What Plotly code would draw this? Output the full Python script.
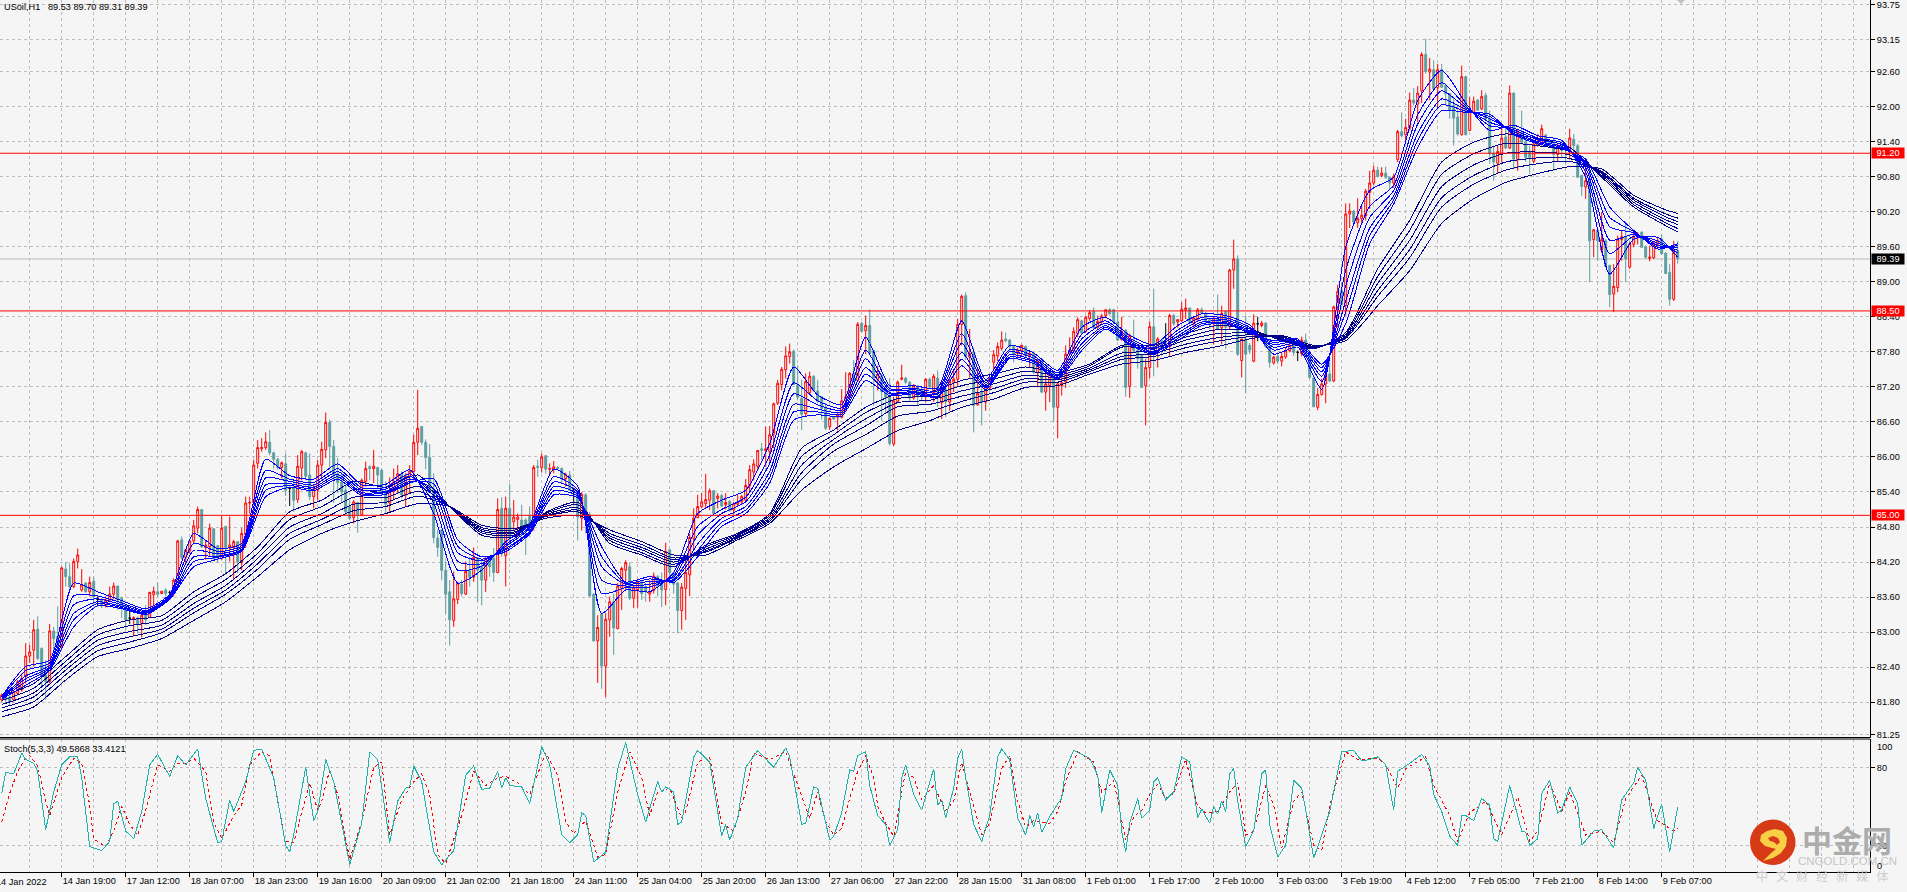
import plotly.graph_objects as go

W, H = 1907, 892

# ---------- candles (hourly USoil) ----------
opens = [
81.84,81.92,81.89,81.84,81.95,82.01,82.24,82.59,82.69,83.05,
82.72,82.27,82.15,83.02,82.93,82.76,84.08,83.95,83.78,84.21,
83.72,83.84,83.69,83.87,83.56,83.56,83.45,83.55,83.65,83.79,
83.58,83.46,83.24,83.22,83.24,83.15,83.32,83.25,83.64,83.69,
83.66,83.72,83.68,83.66,83.87,84.58,84.28,84.39,84.56,84.78,
85.10,84.45,84.46,84.77,84.48,84.26,84.81,84.44,84.45,84.55,
84.19,84.67,85.21,85.22,85.89,86.14,86.16,86.25,86.07,85.96,
85.82,85.88,85.46,85.48,85.27,85.81,86.07,85.69,85.32,85.43,
85.86,86.12,86.59,86.18,85.71,85.57,85.43,85.15,84.96,85.22,
85.01,85.58,85.83,85.80,85.82,85.77,85.42,85.21,85.41,85.56,
85.71,85.35,85.66,85.75,86.25,86.52,86.25,85.99,85.41,84.61,
84.75,84.06,83.69,83.20,83.56,83.82,83.65,84.05,83.94,84.27,
84.12,83.89,84.24,84.26,84.02,85.12,84.31,85.12,84.89,84.93,
84.92,84.92,84.98,84.81,85.84,85.82,86.02,85.79,85.79,85.82,
85.80,85.63,85.69,85.45,85.42,84.95,85.35,85.01,83.65,82.85,
83.31,82.42,83.21,83.52,83.06,83.75,84.06,84.12,83.58,83.73,
83.86,83.78,83.65,83.71,83.95,83.89,83.73,84.41,84.01,83.84,
83.37,83.75,83.98,84.61,84.96,85.15,85.20,85.26,85.42,85.29,
85.34,85.18,85.24,85.09,85.19,85.23,85.26,85.51,85.74,85.84,
86.14,86.11,86.09,86.39,86.92,87.24,87.49,87.72,87.81,87.23,
87.00,86.74,87.10,87.38,87.13,87.03,86.85,86.52,86.68,86.68,
86.68,86.96,87.03,87.43,87.31,88.29,88.16,88.25,87.82,87.33,
87.39,87.12,87.02,86.22,86.95,87.33,87.35,87.28,87.01,87.21,
87.15,87.06,87.33,87.10,87.35,86.93,87.15,86.94,87.28,87.33,
88.27,88.76,87.71,87.79,86.89,87.12,86.94,87.18,87.62,87.73,
87.86,88.02,88.00,87.89,87.77,87.82,87.89,87.73,87.77,87.44,
87.64,87.11,87.22,87.45,86.85,87.22,87.28,87.76,87.82,88.11,
88.33,88.15,88.37,88.49,88.22,88.31,88.42,88.52,88.52,88.31,
88.01,88.17,87.21,87.95,87.82,87.75,87.22,87.53,88.23,87.82,
88.00,87.91,87.89,88.42,88.31,88.33,88.52,88.55,88.29,88.36,
88.52,88.46,88.35,88.31,88.36,88.21,88.49,88.23,89.20,89.39,
87.65,88.02,87.91,87.64,88.28,88.25,88.29,87.89,87.61,87.72,
87.64,87.71,87.82,87.91,87.79,87.77,88.00,87.73,87.35,86.85,
87.07,87.25,87.42,87.30,88.57,88.85,88.59,90.16,90.21,90.01,
90.08,90.13,90.53,90.69,90.91,90.82,90.86,90.79,90.69,91.09,
91.57,91.52,91.63,92.11,92.04,92.27,92.89,92.59,92.63,92.32,
92.63,92.36,92.22,92.02,91.82,91.52,92.51,91.59,91.90,92.11,
91.96,92.19,91.80,91.20,91.03,91.20,91.48,91.29,92.23,91.09,
91.56,91.39,91.22,91.06,91.34,91.37,91.51,91.40,91.36,91.18,
91.33,91.35,91.22,91.44,91.33,90.82,90.62,90.73,89.72,89.88,
89.54,89.70,89.28,88.79,88.90,89.72,89.76,89.25,89.64,89.76,
89.85,89.60,89.40,89.41,89.65,89.73,89.49,89.16,88.70,89.53]

highs = [
81.95,81.95,81.92,82.01,82.18,82.29,82.81,82.78,83.21,83.27,
82.74,82.52,83.14,83.09,83.44,84.12,84.20,84.18,84.26,84.43,
84.08,83.85,83.95,83.95,83.61,83.58,83.61,83.78,83.85,83.79,
83.61,83.46,83.37,83.27,83.27,83.32,83.46,83.69,83.78,83.85,
83.70,83.75,83.71,83.92,84.58,84.64,84.42,84.58,84.92,85.15,
85.10,84.58,84.86,84.78,84.49,84.99,84.82,84.98,84.58,84.55,
84.78,85.32,85.32,85.95,86.29,86.32,86.42,86.46,86.09,85.98,
85.92,86.06,85.49,85.60,86.03,86.12,86.09,86.06,85.52,85.95,
86.26,86.76,86.64,86.29,85.98,85.75,85.52,85.26,85.26,85.23,
85.63,85.92,85.86,86.12,85.83,85.80,85.58,85.65,85.80,85.86,
85.75,85.72,85.86,86.38,87.15,86.53,86.30,86.22,85.72,84.75,
84.76,84.21,83.89,84.04,83.86,83.89,84.21,84.29,84.45,84.29,
84.21,84.29,84.29,84.44,85.29,85.31,85.32,85.54,85.26,85.03,
85.18,84.95,85.15,85.86,85.95,86.06,86.03,85.89,85.93,85.84,
85.82,85.73,85.76,85.45,85.43,85.40,85.38,85.06,83.66,83.29,
83.32,83.32,83.61,83.66,83.84,84.12,84.23,84.19,83.81,83.89,
83.89,83.84,83.89,84.02,83.98,84.02,84.53,84.41,84.04,83.86,
83.84,84.23,84.69,85.12,85.35,85.38,85.71,85.46,85.43,85.38,
85.37,85.38,85.26,85.23,85.35,85.35,85.62,85.86,85.96,86.12,
86.24,86.52,86.53,86.93,87.32,87.54,87.89,87.94,87.84,87.57,
87.32,87.43,87.46,87.40,87.32,87.04,86.92,86.68,86.70,86.77,
87.16,87.45,87.45,87.66,88.31,88.31,88.42,88.52,87.83,87.56,
87.42,87.19,87.35,87.03,87.31,87.58,87.37,87.30,87.25,87.23,
87.20,87.35,87.36,87.42,87.48,87.31,87.19,87.34,87.48,88.36,
88.78,88.82,88.19,87.87,87.53,87.36,87.25,87.36,87.83,87.96,
88.15,88.13,88.02,87.89,87.87,87.92,87.91,87.82,87.79,87.68,
87.65,87.45,87.48,87.48,87.28,87.45,87.91,88.05,88.22,88.39,
88.35,88.42,88.51,88.56,88.42,88.45,88.53,88.55,88.53,88.48,
88.40,88.19,88.11,88.35,87.91,87.76,87.68,88.32,88.88,88.05,
88.02,88.29,88.45,88.45,88.36,88.65,88.71,88.56,88.40,88.55,
88.56,88.48,88.36,88.39,88.78,88.59,88.51,89.22,89.72,89.45,
88.02,88.42,87.95,88.44,88.40,88.33,88.31,87.91,87.73,87.79,
87.79,87.88,87.96,87.92,87.82,88.06,88.11,87.75,87.36,87.18,
87.34,87.51,87.71,88.59,88.95,88.97,90.34,90.34,90.23,90.43,
90.33,90.59,90.90,90.99,90.97,90.96,90.97,90.80,90.85,91.60,
91.90,91.79,92.24,92.32,92.35,92.93,93.16,92.83,92.79,92.73,
92.73,92.37,92.23,92.16,92.04,92.70,92.53,92.16,92.17,92.13,
92.28,92.24,91.93,91.33,91.33,91.62,91.64,92.36,92.24,91.62,
91.93,91.47,91.33,91.39,91.53,91.69,91.53,91.43,91.47,91.36,
91.36,91.36,91.62,91.53,91.36,90.83,91.10,90.93,89.90,89.90,
90.19,89.73,89.29,89.30,89.79,89.88,89.99,89.68,89.89,89.85,
89.86,89.62,89.62,89.69,89.77,89.81,89.50,89.30,89.70,89.70]

lows = [
81.81,81.78,81.75,81.81,81.92,81.98,82.12,82.47,82.41,82.52,
82.07,81.84,82.12,82.64,82.55,82.72,83.78,83.75,83.75,84.09,
83.69,83.68,83.61,83.46,83.44,83.41,83.42,83.52,83.56,83.38,
83.24,83.04,83.14,82.93,82.98,82.91,83.12,83.24,83.44,83.61,
83.65,83.61,83.55,83.61,83.84,84.24,84.18,84.35,84.52,84.69,
84.44,84.24,84.29,84.24,84.19,84.24,83.98,84.21,83.89,84.01,
84.06,84.44,85.03,85.18,85.80,86.09,86.12,86.03,85.80,85.78,
85.63,85.33,85.16,85.06,85.21,85.60,85.60,85.26,85.12,85.26,
85.63,85.98,85.78,85.21,85.38,85.23,85.01,84.92,84.86,84.70,
85.01,85.49,85.60,85.55,85.46,85.35,85.03,85.06,85.26,85.38,
85.29,85.16,85.38,85.60,86.03,86.20,85.79,85.38,84.52,84.29,
83.89,83.32,82.77,83.09,83.48,83.61,83.64,83.78,83.86,83.52,
83.46,83.69,83.95,83.86,84.01,84.29,83.78,84.49,84.75,84.63,
84.66,84.32,84.63,84.74,85.66,85.73,85.71,85.67,85.72,85.78,
85.54,85.49,85.42,85.20,84.57,84.74,84.69,83.61,82.84,82.13,
82.03,81.89,82.92,82.61,83.05,83.38,83.72,83.55,83.41,83.42,
83.55,83.52,83.52,83.66,83.61,83.43,83.46,83.89,83.66,82.98,
83.04,83.21,83.62,84.41,84.95,85.12,85.12,85.09,85.02,85.12,
85.14,85.10,85.06,85.01,85.16,85.18,85.23,85.38,85.60,85.78,
85.95,85.83,85.92,86.15,86.89,87.14,87.34,87.60,87.23,86.97,
86.46,86.69,87.08,87.12,86.92,86.64,86.46,86.46,86.63,86.46,
86.66,86.79,87.01,87.28,87.28,88.13,87.76,87.76,86.88,87.14,
86.62,86.74,86.19,86.19,86.94,87.31,87.25,86.94,86.98,86.88,
86.96,86.94,87.18,86.94,86.85,86.65,86.68,86.79,87.11,87.22,
87.91,87.66,87.36,86.42,86.88,86.54,86.79,87.14,87.48,87.64,
87.82,87.96,87.82,87.62,87.69,87.71,87.71,87.54,87.42,87.19,
87.09,86.79,86.94,86.61,86.32,87.05,87.18,87.79,87.79,88.05,
88.11,88.12,88.33,88.19,88.19,88.28,88.39,88.42,88.27,87.99,
87.99,87.03,87.01,87.79,87.51,87.18,86.54,87.35,87.38,87.53,
87.73,87.89,87.73,88.25,88.21,88.31,88.36,88.28,88.21,88.33,
88.45,88.28,88.19,87.93,88.17,87.93,87.85,88.19,88.88,87.73,
87.36,87.09,87.76,87.62,87.98,88.22,87.87,87.53,87.58,87.59,
87.55,87.68,87.79,87.73,87.64,87.72,87.72,87.34,86.85,86.80,
87.05,86.92,87.28,87.28,88.22,88.59,88.42,89.92,90.00,89.92,
89.99,90.05,90.25,90.65,90.79,90.79,90.76,90.59,90.61,91.05,
91.47,91.42,91.59,92.02,91.73,92.06,92.56,92.11,92.28,91.96,
92.32,92.02,91.79,91.33,91.50,91.50,91.50,91.58,91.88,91.93,
91.94,91.77,91.02,90.73,90.85,91.05,91.27,91.27,90.93,90.90,
91.36,91.05,90.85,91.03,91.31,91.33,91.36,91.30,90.90,91.05,
91.13,91.02,91.09,91.22,90.78,90.47,90.42,88.99,89.42,89.36,
89.49,89.25,88.56,88.48,88.82,89.36,88.99,89.22,89.59,89.64,
89.58,89.39,89.35,89.39,89.60,89.46,89.13,88.59,88.67,89.31]

closes = [
81.92,81.84,81.81,81.98,82.15,82.21,82.59,82.66,83.04,82.55,
82.25,82.15,83.02,82.89,82.75,84.10,83.95,83.78,84.21,84.32,
83.81,83.69,83.85,83.61,83.56,83.45,83.55,83.65,83.79,83.55,
83.44,83.21,83.24,83.25,83.14,83.29,83.21,83.68,83.70,83.65,
83.70,83.66,83.68,83.89,84.56,84.28,84.41,84.56,84.82,85.10,
84.46,84.49,84.78,84.26,84.29,84.78,84.45,84.49,84.55,84.21,
84.69,85.21,85.22,85.86,86.16,86.16,86.26,86.07,85.96,85.82,
85.90,85.43,85.46,85.26,85.84,86.09,85.67,85.32,85.45,85.86,
86.13,86.59,86.18,85.67,85.56,85.40,85.06,84.95,85.23,85.01,
85.60,85.80,85.80,85.84,85.69,85.40,85.19,85.41,85.57,85.71,
85.35,85.67,85.76,86.25,86.49,86.25,85.99,85.39,84.62,84.45,
84.06,83.65,83.21,83.57,83.84,83.66,84.04,83.94,84.28,84.06,
83.89,84.26,84.12,84.02,85.10,84.34,85.12,84.63,84.97,84.97,
84.75,84.81,84.78,85.82,85.82,86.00,85.79,85.80,85.83,85.80,
85.63,85.70,85.43,85.45,84.97,85.36,85.01,83.62,82.85,83.08,
82.42,83.22,83.52,83.07,83.79,84.09,84.19,83.58,83.77,83.86,
83.66,83.69,83.69,83.96,83.78,83.72,84.38,84.02,83.82,83.37,
83.77,84.02,84.62,84.95,85.15,85.23,85.27,85.42,85.03,85.33,
85.16,85.22,85.08,85.20,85.23,85.32,85.51,85.78,85.88,86.11,
86.11,86.14,86.38,86.91,87.26,87.50,87.73,87.80,87.24,87.02,
86.73,87.29,87.38,87.13,86.95,86.83,86.49,86.66,86.65,86.72,
86.96,87.03,87.43,87.31,88.27,88.15,88.25,87.77,87.35,87.42,
87.12,87.02,86.23,86.96,87.28,87.35,87.28,87.01,87.22,87.05,
87.05,87.33,87.20,87.38,87.14,87.12,86.94,87.29,87.33,88.27,
88.75,87.72,87.77,86.88,87.09,86.94,87.20,87.35,87.75,87.89,
88.00,87.99,87.89,87.76,87.83,87.91,87.73,87.77,87.45,87.64,
87.11,87.25,87.45,86.85,87.25,87.27,87.76,87.83,88.15,88.35,
88.12,88.39,88.47,88.21,88.32,88.41,88.52,88.45,88.31,88.00,
88.15,87.19,88.08,87.82,87.68,87.19,87.53,88.23,87.89,88.02,
87.85,87.91,88.42,88.28,88.35,88.53,88.55,88.31,88.38,88.52,
88.46,88.33,88.28,88.38,88.19,88.46,88.22,89.20,89.39,87.76,
88.02,87.76,87.83,88.29,88.28,88.29,87.89,87.62,87.71,87.64,
87.72,87.82,87.91,87.79,87.79,88.00,87.73,87.36,86.86,87.07,
87.25,87.41,87.30,88.57,88.83,88.61,90.16,90.21,90.02,90.08,
90.14,90.55,90.69,90.91,90.80,90.86,90.79,90.69,90.80,91.57,
91.50,91.64,92.11,92.06,92.23,92.89,92.60,92.64,92.30,92.63,
92.33,92.22,91.93,91.80,91.53,92.51,91.52,91.93,92.09,91.94,
92.17,91.79,91.19,91.05,91.23,91.46,91.29,92.23,91.10,91.58,
91.39,91.13,91.13,91.36,91.38,91.62,91.39,91.33,91.18,91.33,
91.25,91.29,91.46,91.33,90.79,90.63,90.73,89.70,89.89,89.70,
89.72,89.26,88.78,88.92,89.73,89.77,89.39,89.65,89.77,89.81,
89.59,89.42,89.42,89.66,89.70,89.48,89.14,88.70,89.50,89.39]

doji_bars = [24, 32, 42, 72, 143, 291, 314, 324]

# ---------- guppy ribbons ----------
slow_bars = list(range(0, 420, 8)) + [419]
slow1 = [81.90,82.12,82.58,83.04,83.21,83.28,83.69,84.00,84.46,85.06,85.26,85.58,85.48,85.69,85.15,84.66,84.63,85.05,85.22,84.52,84.32,84.12,84.49,84.69,85.03,86.15,86.46,86.85,87.08,87.11,87.31,87.42,87.54,87.45,87.59,87.91,87.91,88.11,88.25,88.19,87.99,87.85,88.13,89.22,90.05,91.05,91.39,91.53,91.45,91.30,90.79,90.28,89.96,89.85]
slow2 = [81.83,82.04,82.50,82.95,83.11,83.20,83.59,83.90,84.35,84.93,85.15,85.44,85.39,85.59,85.15,84.70,84.66,85.03,85.18,84.57,84.36,84.16,84.46,84.67,85.00,86.01,86.38,86.76,87.00,87.05,87.22,87.33,87.47,87.40,87.56,87.88,87.86,88.05,88.18,88.16,88.01,87.86,88.10,89.09,89.88,90.84,91.19,91.37,91.33,91.23,90.82,90.32,90.01,89.91]
slow3 = [81.76,81.96,82.42,82.86,83.01,83.12,83.49,83.80,84.26,84.80,85.03,85.31,85.30,85.50,85.15,84.73,84.69,85.01,85.13,84.61,84.41,84.20,84.42,84.65,84.96,85.86,86.30,86.65,86.93,86.97,87.13,87.25,87.40,87.36,87.52,87.78,87.81,88.00,88.11,88.12,88.03,87.87,88.07,88.97,89.71,90.63,91.00,91.20,91.22,91.17,90.85,90.36,90.06,89.98]
slow4 = [81.70,81.89,82.35,82.77,82.92,83.05,83.41,83.72,84.17,84.69,84.93,85.19,85.22,85.41,85.15,84.76,84.71,84.99,85.09,84.65,84.45,84.24,84.39,84.63,84.93,85.73,86.22,86.53,86.86,86.90,87.04,87.17,87.34,87.32,87.49,87.72,87.77,87.93,88.04,88.09,88.05,87.88,88.05,88.85,89.55,90.44,90.82,91.05,91.12,91.11,90.87,90.40,90.11,90.03]
slow5 = [81.64,81.81,82.27,82.68,82.83,82.99,83.33,83.65,84.08,84.59,84.84,85.08,85.15,85.33,85.15,84.79,84.74,84.98,85.06,84.69,84.50,84.27,84.37,84.61,84.90,85.62,86.10,86.38,86.70,86.78,86.95,87.10,87.28,87.28,87.46,87.67,87.72,87.87,87.98,88.06,88.06,87.89,88.03,88.75,89.41,90.28,90.67,90.91,91.02,91.06,90.89,90.43,90.16,90.09]
slow6 = [81.55,81.72,82.18,82.58,82.72,82.89,83.20,83.52,83.95,84.41,84.69,84.89,85.03,85.20,85.15,84.83,84.77,84.95,85.00,84.75,84.55,84.32,84.32,84.58,84.86,85.43,85.83,86.14,86.45,86.62,86.85,86.99,87.19,87.22,87.42,87.59,87.65,87.79,87.89,88.02,88.08,87.91,87.99,88.59,89.19,90.00,90.42,90.70,90.85,90.97,90.93,90.48,90.23,90.17]

fast_bars = list(range(0, 420, 6)) + [419]
fast1 = [81.90,82.41,82.52,83.84,83.69,83.54,83.40,83.65,84.69,84.43,84.52,85.96,85.68,85.62,85.88,85.52,85.53,85.78,85.03,83.84,84.06,84.55,84.85,85.79,85.50,83.32,83.72,83.69,84.02,85.03,85.26,85.43,86.23,87.54,87.06,86.90,88.05,87.22,87.22,87.18,88.33,87.32,87.91,87.78,87.48,88.22,88.39,88.08,87.92,88.25,88.45,88.42,88.26,87.76,87.88,87.16,89.59,90.56,90.79,92.10,92.62,92.06,91.59,91.68,91.50,91.42,90.79,89.13,89.73,89.76,89.42]
fast2 = [81.89,82.34,82.47,83.62,83.62,83.50,83.37,83.62,84.52,84.38,84.48,85.77,85.62,85.56,85.80,85.47,85.48,85.71,85.21,84.06,84.13,84.50,84.80,85.66,85.44,83.66,83.76,83.77,83.97,84.81,85.10,85.31,86.03,87.27,86.96,86.84,87.83,87.17,87.18,87.13,88.11,87.27,87.84,87.73,87.44,88.10,88.33,88.03,87.87,88.17,88.39,88.38,88.22,87.83,87.92,87.29,89.20,90.29,90.65,91.86,92.41,92.01,91.67,91.63,91.46,91.38,90.88,89.48,89.78,89.70,89.49]
fast3 = [81.88,82.25,82.43,83.47,83.57,83.47,83.35,83.60,84.40,84.34,84.45,85.64,85.58,85.52,85.75,85.43,85.45,85.67,85.33,84.21,84.17,84.47,84.77,85.57,85.40,83.89,83.79,83.82,83.94,84.66,85.03,85.23,85.89,87.08,86.89,86.80,87.68,87.14,87.15,87.10,87.95,87.24,87.80,87.69,87.41,88.02,88.29,88.00,87.84,88.12,88.35,88.35,88.19,87.88,87.95,87.38,88.93,90.10,90.56,91.70,92.27,91.98,91.73,91.60,91.43,91.35,90.95,89.71,89.81,89.66,89.54]
fast4 = [81.87,82.20,82.40,83.32,83.52,83.44,83.33,83.58,84.29,84.30,84.42,85.52,85.54,85.48,85.70,85.39,85.41,85.62,85.44,84.36,84.22,84.43,84.73,85.49,85.36,84.12,83.82,83.87,83.90,84.51,84.95,85.15,85.75,86.90,86.82,86.76,87.53,87.10,87.12,87.07,87.79,87.20,87.75,87.65,87.38,87.94,88.25,87.97,87.80,88.07,88.31,88.32,88.16,87.92,87.98,87.46,88.67,89.92,90.47,91.54,92.13,91.95,91.79,91.57,91.40,91.32,91.01,89.94,89.84,89.62,89.58]
fast5 = [81.86,82.15,82.38,83.21,83.49,83.42,83.32,83.57,84.21,84.28,84.40,85.43,85.51,85.45,85.66,85.37,85.39,85.58,85.54,84.47,84.25,84.41,84.71,85.42,85.33,84.29,83.84,83.91,83.88,84.40,84.88,85.09,85.65,86.77,86.77,86.73,87.42,87.08,87.10,87.04,87.67,87.18,87.71,87.63,87.35,87.88,88.22,87.94,87.78,88.03,88.28,88.30,88.14,87.96,88.00,87.53,88.48,89.79,90.40,91.42,92.03,91.92,91.83,91.54,91.38,91.30,91.05,90.10,89.86,89.59,89.62]
fast6 = [81.85,82.09,82.35,83.09,83.45,83.40,83.30,83.56,84.12,84.25,84.38,85.32,85.48,85.42,85.62,85.34,85.36,85.55,85.63,84.58,84.29,84.38,84.68,85.35,85.30,84.46,83.86,83.95,83.85,84.29,84.81,85.03,85.55,86.63,86.72,86.70,87.31,87.05,87.08,87.02,87.56,87.15,87.68,87.60,87.33,87.82,88.19,87.92,87.75,87.99,88.25,88.28,88.12,87.99,88.02,87.59,88.28,89.65,90.33,91.30,91.93,91.90,91.87,91.52,91.36,91.28,91.10,90.28,89.88,89.56,89.65]

# ---------- stochastic ----------
stoch_main_bars = [0,1,3,4,5,6,8,9,11,13,15,17,19,20,22,23,25,27,28,29,31,33,35,37,39,42,44,46,49,51,54,55,57,58,61,63,65,68,71,72,73,76,78,79,81,83,87,90,92,94,97,99,101,102,103,105,108,110,113,116,118,120,122,124,125,126,127,130,132,135,137,140,142,144,145,146,148,151,154,156,159,161,164,165,166,168,169,170,173,174,177,180,181,182,184,186,189,193,196,197,200,201,203,204,207,208,
210,212,213,214,216,217,219,221,222,224,225,226,228,230,233,234,235,236,238,239,240,241,243,245,247,249,250,252,254,256,257,258,259,260,262,264,265,266,268,272,274,275,277,279,280,281,282,284,285,287,288,289,291,293,295,297,299,300,302,303,304,305,306,307,308,309,311,313,315,316,317,319,321,323,325,326,328,331,332,335,338,340,342,344,346,348,349,352,355,357,358,360,362,364,365,366,368,370,372,373,374,377,378,380,381,382,384,385,387,389,390,392,394,395,398,400,403,405,408,409,411,413,415,417,419]
stoch_main = [60,76,75,83,91,86,83,77,32,61,82,88,88,72,19,18,16,23,52,54,31,25,46,82,90,73,89,82,94,56,22,23,55,46,69,93,94,72,20,15,28,80,39,46,86,69,5,37,92,86,22,54,64,65,81,69,15,5,16,74,81,63,64,77,64,72,66,65,52,96,82,28,22,28,45,43,7,15,79,99,59,38,69,61,65,61,36,38,88,93,84,27,36,24,41,80,93,80,95,88,36,37,65,64,24,27,
45,78,77,89,92,66,43,36,20,32,72,82,59,47,79,51,55,41,64,87,94,72,36,23,43,88,94,86,41,28,43,34,45,30,42,52,56,79,93,87,74,45,78,66,31,15,37,56,41,47,69,72,55,61,88,84,41,48,37,50,44,54,46,75,79,54,19,31,75,78,36,11,20,70,64,47,10,37,46,92,93,85,86,88,82,47,77,83,90,81,59,46,27,20,43,43,39,56,51,25,23,66,54,31,30,20,25,60,70,45,47,65,52,20,31,32,18,55,68,80,70,33,52,15,49.5868]
stoch_sig_bars = [0,2,4,6,7,9,11,12,15,18,20,22,23,26,28,30,32,34,36,39,42,44,46,48,51,53,55,58,60,62,65,67,69,71,73,77,79,80,82,84,87,90,93,95,97,100,103,105,107,109,111,115,118,121,124,126,129,132,136,139,141,143,146,149,151,154,157,160,162,164,167,170,171,174,177,180,183,186,188,192,196,199,202,204,206,208,
210,212,214,216,218,219,221,223,224,226,228,230,233,236,238,240,242,245,247,250,252,254,256,258,262,264,266,269,273,275,277,278,281,283,285,287,289,291,293,296,299,301,304,307,309,311,313,316,318,320,323,325,328,330,332,336,339,344,346,349,351,356,358,362,364,367,371,375,379,382,384,387,390,392,396,400,403,406,410,413,414,418,419]
stoch_sig = [38,60,77,87,89,81,54,43,72,87,83,51,25,19,31,50,36,28,47,82,77,83,83,87,77,38,25,43,51,82,92,89,54,23,22,68,47,54,78,59,9,38,80,84,28,55,69,75,59,13,6,43,77,66,72,73,68,59,91,74,38,29,39,11,13,61,92,72,43,61,64,41,46,84,88,37,31,61,91,86,92,66,41,61,38,28,
33,56,77,89,72,50,37,27,43,77,72,55,66,47,54,84,61,28,37,79,89,54,34,39,37,46,69,92,84,61,66,70,24,42,47,59,67,56,60,86,50,45,46,61,68,28,31,66,51,18,54,61,20,16,51,92,86,87,82,64,79,88,66,43,23,45,54,28,57,23,31,68,46,61,28,31,22,56,74,46,39,31,33.4121]

# ---------- levels, labels ----------
red_levels = [91.20, 88.50, 85.00]
last_price = 89.39
price_ticks = [93.75,93.15,92.60,92.00,91.40,90.80,90.20,89.60,89.00,88.40,87.80,87.20,86.60,86.00,85.40,84.80,84.20,83.60,83.00,82.40,81.80,81.25]
time_labels = ["14 Jan 19:00","17 Jan 12:00","18 Jan 07:00","18 Jan 23:00","19 Jan 16:00","20 Jan 09:00","21 Jan 02:00","21 Jan 18:00","24 Jan 11:00","25 Jan 04:00","25 Jan 20:00","26 Jan 13:00","27 Jan 06:00","27 Jan 22:00","28 Jan 15:00","31 Jan 08:00","1 Feb 01:00","1 Feb 17:00","2 Feb 10:00","3 Feb 03:00","3 Feb 19:00","4 Feb 12:00","7 Feb 05:00","7 Feb 21:00","8 Feb 14:00","9 Feb 07:00"]
time_ticks = [15 + 16 * i for i in range(len(time_labels))]
grid_ticks = [7 + 8 * i for i in range(58)]

BG = "#f5f5f5"
GRID = "#bdbdbd"
FONT = "Liberation Sans"
FS = 9.2
TEAL = "#5f9ea0"
px = lambda v: v / W
py = lambda v: 1 - v / H

fig = go.Figure()

normal = [i for i in range(len(opens)) if i not in doji_bars]
fig.add_trace(go.Candlestick(
    x=normal, open=[opens[i] for i in normal], high=[highs[i] for i in normal],
    low=[lows[i] for i in normal], close=[closes[i] for i in normal],
    increasing=dict(line=dict(color="#ff0000", width=1), fillcolor=BG),
    decreasing=dict(line=dict(color=TEAL, width=1), fillcolor=TEAL),
    whiskerwidth=0, hoverinfo="skip", xaxis="x", yaxis="y"))
fig.add_trace(go.Candlestick(
    x=doji_bars, open=[opens[i] for i in doji_bars], high=[highs[i] for i in doji_bars],
    low=[lows[i] for i in doji_bars], close=[closes[i] for i in doji_bars],
    increasing=dict(line=dict(color="#000000", width=1), fillcolor="#000000"),
    decreasing=dict(line=dict(color="#000000", width=1), fillcolor="#000000"),
    whiskerwidth=0, hoverinfo="skip", xaxis="x", yaxis="y"))

for s in [slow1, slow2, slow3, slow4, slow5, slow6]:
    fig.add_trace(go.Scatter(x=slow_bars, y=s, mode="lines", xaxis="x", yaxis="y",
                             line=dict(color="#00008b", width=1, shape="spline", smoothing=0.6), hoverinfo="skip"))
for s in [fast1, fast2, fast3, fast4, fast5, fast6]:
    fig.add_trace(go.Scatter(x=fast_bars, y=s, mode="lines", xaxis="x", yaxis="y",
                             line=dict(color="#0000ff", width=1, shape="spline", smoothing=0.6), hoverinfo="skip"))

fig.add_trace(go.Scatter(x=stoch_sig_bars, y=stoch_sig, mode="lines", xaxis="x2", yaxis="y2",
                         line=dict(color="#ff0000", width=1, dash="3px,3px"), hoverinfo="skip"))
fig.add_trace(go.Scatter(x=stoch_main_bars, y=stoch_main, mode="lines", xaxis="x2", yaxis="y2",
                         line=dict(color="#20b2aa", width=1), hoverinfo="skip"))

x_range = [-0.425, 467.075]
x_dom = [0, 1870 / W]
common_x = dict(range=x_range, domain=x_dom, type="linear", zeroline=False, automargin=False,
                showline=True, linecolor="#000000", linewidth=1, mirror=False,
                tickvals=time_ticks, showgrid=True, gridcolor=GRID, griddash="3px,3px", gridwidth=1,
                minor=dict(tickvals=grid_ticks, showgrid=True, gridcolor=GRID, griddash="3px,3px", gridwidth=1, ticks=""))
shapes = []
for lv in red_levels:
    shapes.append(dict(type="line", xref="paper", yref="y", x0=0, x1=1870 / W, y0=lv, y1=lv,
                       line=dict(color="#ff0000", width=1), layer="above"))
shapes.append(dict(type="line", xref="paper", yref="y", x0=0, x1=1870 / W, y0=last_price, y1=last_price,
                   line=dict(color="#bcbcbc", width=1), layer="below"))
# pane separator
shapes.append(dict(type="line", xref="paper", yref="paper", x0=0, x1=1870 / W, y0=py(739), y1=py(739),
                   line=dict(color="#000000", width=1), layer="above"))


def path(points):
    return "M " + " L ".join(f"{px(a):.5f},{py(b):.5f}" for a, b in points) + " Z"


shapes.append(dict(type="path", xref="paper", yref="paper",
                   path=path([(1677, 0), (1685, 0), (1681, 4)]), fillcolor="#c0c0c0", line=dict(width=0)))
# watermark logo
shapes.append(dict(type="circle", xref="paper", yref="paper", x0=px(1750), x1=px(1795.5), y0=py(819.5), y1=py(865),
                   fillcolor="#d63a16", line=dict(width=0), layer="above"))
shapes.append(dict(type="path", xref="paper", yref="paper", layer="above", line=dict(width=0), fillcolor="#f8cf45",
                   path=path([(1767, 831), (1775, 829), (1783, 831), (1787, 838), (1786, 846), (1781, 853), (1773, 858), (1763, 861),
                              (1770, 854), (1776, 849), (1772, 848), (1765, 846), (1760, 841), (1761, 835)])))
shapes.append(dict(type="path", xref="paper", yref="paper", layer="above", line=dict(width=0), fillcolor="#d63a16",
                   path=path([(1768, 838), (1773, 836), (1778, 838), (1780, 842), (1777, 845), (1774, 842), (1770, 841)])))


def text(x, y, s, size=FS, color="#000000", anchor="left", family=FONT, **kw):
    return dict(text=s, x=px(x), y=py(y), xref="paper", yref="paper", xanchor=anchor, yanchor="middle",
                showarrow=False, font=dict(family=family, size=size, color=color), **kw)


anns = [
    text(1.5, 7.5, "USoil,H1\u00a0\u00a0\u00a089.53 89.70 89.31 89.39"),
    text(1.5, 749, "Stoch(5,3,3) 49.5868 33.4121"),
    text(-6.5, 882, "14 Jan 2022"),
    text(1875, 746.5, "100"),
    text(1875, 866, "0"),
    text(1847, 839, "<b>中金网</b>", size=30, color="#acacac", anchor="center", family="Noto Sans CJK SC"),
    text(1847, 861, "CNGOLD.COM.CN", size=11.5, color="#c6c6c6", anchor="center"),
    text(1822, 875, "中\u00a0\u00a0\u00a0文\u00a0\u00a0\u00a0财\u00a0\u00a0\u00a0经\u00a0\u00a0\u00a0新\u00a0\u00a0\u00a0媒\u00a0\u00a0\u00a0体", size=12, color="#cfcfcf", anchor="center", family="Noto Sans CJK SC"),
]
for lv, bg in [(91.20, "#ff0000"), (88.50, "#ff0000"), (85.00, "#ff0000"), (last_price, "#000000")]:
    anns.append(dict(text=f"{lv:.2f}", x=px(1871), y=lv, xref="paper", yref="y", xanchor="left", yanchor="middle",
                     showarrow=False, bgcolor=bg, width=32, height=10, borderpad=0, align="center",
                     font=dict(family=FONT, size=FS, color="#ffffff")))

fig.update_layout(
    width=W, height=H, autosize=False, margin=dict(l=0, r=0, t=0, b=0, autoexpand=False),
    paper_bgcolor=BG, plot_bgcolor=BG, showlegend=False, boxgap=0.3,
    font=dict(family=FONT, size=FS, color="#000000"),
    xaxis=dict(**common_x, anchor="y", rangeslider=dict(visible=False), showticklabels=False, ticks=""),
    xaxis2=dict(**common_x, anchor="y2", ticks="outside", ticklen=4, tickcolor="#000000", tickwidth=1,
                ticktext=time_labels, ticklabelposition="outside right", tickangle=0,
                tickfont=dict(family=FONT, size=FS, color="#000000")),
    yaxis=dict(domain=[py(737), 1], range=[81.204, 93.824], side="right", anchor="x", tickvals=price_ticks,
               ticktext=[f"{v:.2f}" for v in price_ticks], ticks="outside", ticklen=4, tickcolor="#000000", automargin=False,
               ticklabeloverflow="allow",
               showline=True, linecolor="#000000", linewidth=1, zeroline=False, showgrid=True, gridcolor=GRID,
               griddash="3px,3px", gridwidth=1, tickfont=dict(family=FONT, size=FS, color="#000000")),
    yaxis2=dict(domain=[py(872), py(739)], range=[-0.5, 101.8], side="right", anchor="x2", tickvals=[80, 20],
                ticktext=["80", "20"], ticks="outside", ticklen=4, tickcolor="#000000", automargin=False,
                showline=True, linecolor="#000000", linewidth=1, zeroline=False, showgrid=True, gridcolor=GRID,
                griddash="3px,3px", gridwidth=1, tickfont=dict(family=FONT, size=FS, color="#000000")),
    shapes=shapes, annotations=anns,
)

fig.write_html("out.html", include_plotlyjs=True, config={"displayModeBar": False},
               post_script="document.body.style.margin='0';"
                           "document.querySelectorAll('.scatterlayer path.js-line').forEach(function(p){p.style.shapeRendering='crispEdges';});")
